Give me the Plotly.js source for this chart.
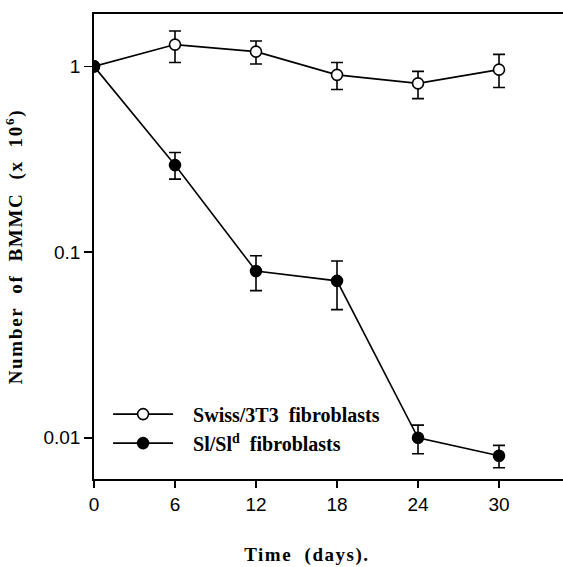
<!DOCTYPE html>
<html>
<head>
<meta charset="utf-8">
<script src="https://cdn.plot.ly/plotly-3.0.1.min.js"></script>
<style>
html,body{margin:0;padding:0;background:#fff;}
#chart{width:563px;height:567px;}
#chart .ytitle{letter-spacing:1.7px;}
#chart .annotation-text{letter-spacing:1.5px;}
</style>
</head>
<body>
<div id="chart"></div>
<script>
// Data
const days = [0, 6, 12, 18, 24, 30];
const swissName = "&nbsp;&nbsp;&nbsp;Swiss/3T3&nbsp;&nbsp;fibroblasts";
const swissVals = [1, 1.31, 1.2, 0.90, 0.81, 0.96];
const swissErrPlus = [0, 0.24, 0.17, 0.15, 0.13, 0.20];
const swissErrMinus = [0, 0.26, 0.17, 0.15, 0.14, 0.19];
const slName = "&nbsp;&nbsp;&nbsp;Sl/Sl<sup>d</sup>&nbsp;&nbsp;fibroblasts";
const slVals = [1, 0.294, 0.079, 0.070, 0.010, 0.0080];
const slErrPlus = [0, 0.050, 0.0165, 0.0195, 0.0017, 0.0011];
const slErrMinus = [0, 0.047, 0.017, 0.021, 0.0018, 0.0011];
const xTicks = [0, 6, 12, 18, 24, 30];
const yTicks = [0.01, 0.1, 1];
const yTickText = ["0.01", "0.1", "1"];

const serif = "Liberation Serif, Times New Roman, serif";
const sans = "Liberation Sans, Arial, sans-serif";

const traces = [
  {
    x: days, y: swissVals, name: swissName, type: "scatter", mode: "lines+markers",
    legendgroup: "a",
    line: {color: "#000", width: 1.6},
    marker: {symbol: "circle", size: 11, color: "#fff", line: {color: "#000", width: 1.6}},
    error_y: {type: "data", symmetric: false, array: swissErrPlus, arrayminus: swissErrMinus,
              color: "#000", thickness: 1.6, width: 6}
  },
  {
    x: days, y: slVals, name: slName, type: "scatter", mode: "lines+markers",
    legendgroup: "b",
    line: {color: "#000", width: 1.6},
    marker: {symbol: "circle", size: 11, color: "#000", line: {color: "#000", width: 1.6}},
    error_y: {type: "data", symmetric: false, array: slErrPlus, arrayminus: slErrMinus,
              color: "#000", thickness: 1.6, width: 6}
  }
];

const layout = {
  width: 563, height: 567,
  margin: {l: 94, r: 0, t: 13.5, b: 88},
  paper_bgcolor: "#fff", plot_bgcolor: "#fff",
  showlegend: true,
  legend: {
    x: 0.03, y: 0.1815, xanchor: "left", yanchor: "top",
    bgcolor: "rgba(0,0,0,0)", borderwidth: 0,
    font: {family: serif, size: 20, color: "#000", weight: "bold"},
    tracegroupgap: 0, itemwidth: 60
  },
  xaxis: {
    range: [0, 34.74], tickvals: xTicks, ticks: "outside", ticklen: 7, tickwidth: 1.5,
    tickcolor: "#000", showline: true, linecolor: "#000", linewidth: 1.8, mirror: true,
    showgrid: false, zeroline: false,
    tickfont: {family: sans, size: 19, color: "#000"}
  },
  yaxis: {
    type: "log", range: [-2.222, 0.282], tickvals: yTicks, ticktext: yTickText,
    ticks: "outside", ticklen: 8, tickwidth: 1.5, tickcolor: "#000",
    showline: true, linecolor: "#000", linewidth: 1.8, mirror: false,
    showgrid: false, zeroline: false,
    tickfont: {family: sans, size: 19, color: "#000"},
    title: {text: "Number&nbsp;&nbsp;of&nbsp;&nbsp;BMMC&nbsp;&nbsp;(x&nbsp;&nbsp;10<sup>6</sup>)", standoff: 16,
            font: {family: serif, size: 19, color: "#000", weight: "bold"}}
  },
  annotations: [
    {text: "Time&nbsp;&nbsp;(days).", xref: "paper", yref: "paper", x: (307 - 94) / 469, y: -0.163,
     xanchor: "center", yanchor: "middle", showarrow: false,
     font: {family: serif, size: 19, color: "#000", weight: "bold"}}
  ]
};

Plotly.newPlot("chart", traces, layout, {displayModeBar: false, staticPlot: true});
</script>
</body>
</html>
